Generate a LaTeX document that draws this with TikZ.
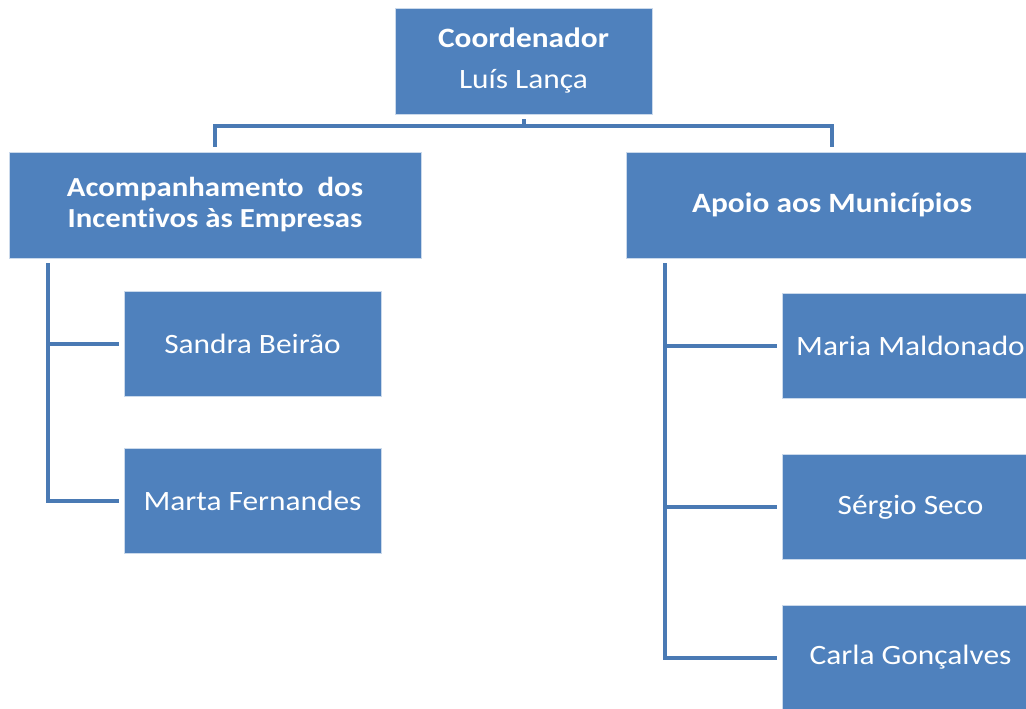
\documentclass[tikz,border=0pt]{standalone}
\usepackage{fontspec}
\setmainfont[FakeStretch=1.12, Ligatures=NoCommon]{Carlito}
\usetikzlibrary{calc}
\definecolor{boxblue}{HTML}{4F81BD}
\definecolor{lineblue}{HTML}{4A7AB4}
\tikzstyle{conn} = [line width=4pt, draw=lineblue, line join=miter]
\tikzstyle{basebox} = [rectangle, draw=white!70!boxblue, line width=0.8pt, fill=boxblue, text=white, align=center]
\tikzstyle{headbox} = [basebox, minimum width=257pt, minimum height=106pt, font=\fontsize{28pt}{35pt}\selectfont]
\tikzstyle{unitbox} = [basebox, minimum width=412pt, minimum height=106pt, font=\bfseries\fontsize{27.5pt}{31pt}\selectfont]
\tikzstyle{personbox} = [basebox, minimum width=257pt, minimum height=105pt, font=\fontsize{28pt}{34pt}\selectfont]

\begin{document}
\begin{tikzpicture}[x=1pt, y=-1pt]
	\useasboundingbox (0,0) rectangle (1026,709);
	\node (coord) [headbox] at (523.5,61) {\textbf{Coordenador}\\[6pt]Luís Lança};
	\node (acomp) [unitbox] at (215,205) {Acompanhamento~ dos\\Incentivos às Empresas};
	\node (apoio) [unitbox] at (832,205) {\fontsize{28pt}{34pt}\selectfont Apoio aos Municípios};
	\node (sandra) [personbox] at (252.5,344) {Sandra Beirão};
	\node (marta) [personbox] at (252.5,501) {Marta Fernandes};
	\node (maria) [personbox] at (910.5,346) {Maria Maldonado};
	\node (sergio) [personbox] at (910.5,507) {Sérgio Seco};
	\node (carla) [personbox] at (910.5,657.5) {Carla Gonçalves};
	% tree lines
	\coordinate (bus) at ($(coord.south)+(0,12)$);
	\coordinate (lspine) at ($(acomp.south west)+(39,5)$);
	\coordinate (rspine) at ($(apoio.south west)+(39,5)$);
	\draw[conn, shorten <=5pt] (coord.south) -- (bus);
	\draw[conn, shorten <=5pt, shorten >=5pt] (acomp.north) |- (bus) -| (apoio.north);
	\draw[conn, shorten >=5pt] (lspine) |- (sandra.west);
	\draw[conn, shorten >=5pt] (lspine) |- (marta.west);
	\draw[conn, shorten >=5pt] (rspine) |- (maria.west);
	\draw[conn, shorten >=5pt] (rspine) |- (sergio.west);
	\draw[conn, shorten >=5pt] (rspine) |- (carla.west);
\end{tikzpicture}
\end{document}
